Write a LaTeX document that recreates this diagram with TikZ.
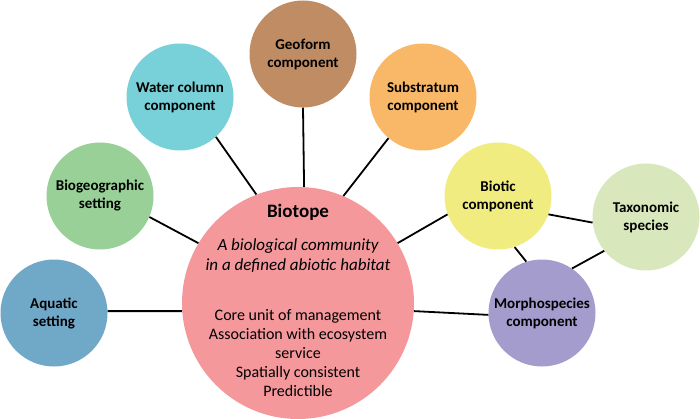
\documentclass[tikz,border=0pt]{standalone}
\usepackage{fontspec}
\setmainfont{Carlito}
\definecolor{aquaticfill}{HTML}{70A8C8}
\definecolor{biogeofill}{HTML}{98D098}
\definecolor{waterfill}{HTML}{78D0D8}
\definecolor{geofill}{HTML}{C08C64}
\definecolor{substratfill}{HTML}{F8B868}
\definecolor{bioticfill}{HTML}{F0EC80}
\definecolor{taxofill}{HTML}{D8E8BC}
\definecolor{morphofill}{HTML}{A49CCC}
\definecolor{biotopefill}{HTML}{F4989C}
\tikzset{component/.style={circle,minimum size=107pt,inner sep=0pt,align=center,
  font=\fontsize{15}{18}\selectfont\bfseries},
 hub/.style={circle,minimum size=232pt,inner sep=0pt},
 link/.style={draw=black,line width=1.8pt},
 }

\begin{document}
\begin{tikzpicture}[x=1pt,y=-1pt]
        \useasboundingbox (0,0) rectangle (700,419);
        \node [hub, fill=biotopefill] (biotope) at (298,303) {};
        \node [anchor=base, font=\fontsize{19}{22}\selectfont\bfseries] (title) at (298,218) {Biotope};
        \node [anchor=base, align=center, font=\fontsize{17}{20}\selectfont\itshape] (habitat) at (298,270)
          {A biological community\\in a defined abiotic habitat};
        \node [anchor=base, align=center, font=\fontsize{16}{19}\selectfont] (traits) at (298,396)
          {Core unit of management\\Association with ecosystem\\service\\Spatially consistent\\Predictible};
        \node [component, fill=aquaticfill] (aquatic) at (54,313) {Aquatic\\setting};
        \node [component, fill=biogeofill] (biogeo) at (100,196) {Biogeographic\\setting};
        \node [component, fill=waterfill] (water) at (180,97) {Water column\\component};
        \node [component, fill=geofill] (geoform) at (303,54) {Geoform\\component};
        \node [component, fill=substratfill] (substrat) at (423,97) {Substratum\\component};
        \node [component, fill=bioticfill] (biotic) at (498,196) {Biotic\\component};
        \node [component, fill=taxofill] (taxo) at (646,217) {Taxonomic\\species};
        \node [component, fill=morphofill] (morpho) at (542,313) {Morphospecies\\component};
        \draw [link] (aquatic.2) -- (biotope.184);
        \draw [link] (biogeo.-23) -- (biotope.149);
        \draw [link] (water.-48) -- (biotope.111);
        \draw [link] (geoform.-90) -- (biotope.87.5);
        \draw [link] (substrat.-130) -- (biotope.67);
        \draw [link] (biotic.200) -- (biotope.31);
        \draw [link] (morpho.182) -- (biotope.-4);
        \draw [link] (biotic.-20) -- (taxo.186);
        \draw [link] (biotic.-72) -- (morpho.107);
        \draw [link] (taxo.219) -- (morpho.56);
    \end{tikzpicture}
\end{document}
